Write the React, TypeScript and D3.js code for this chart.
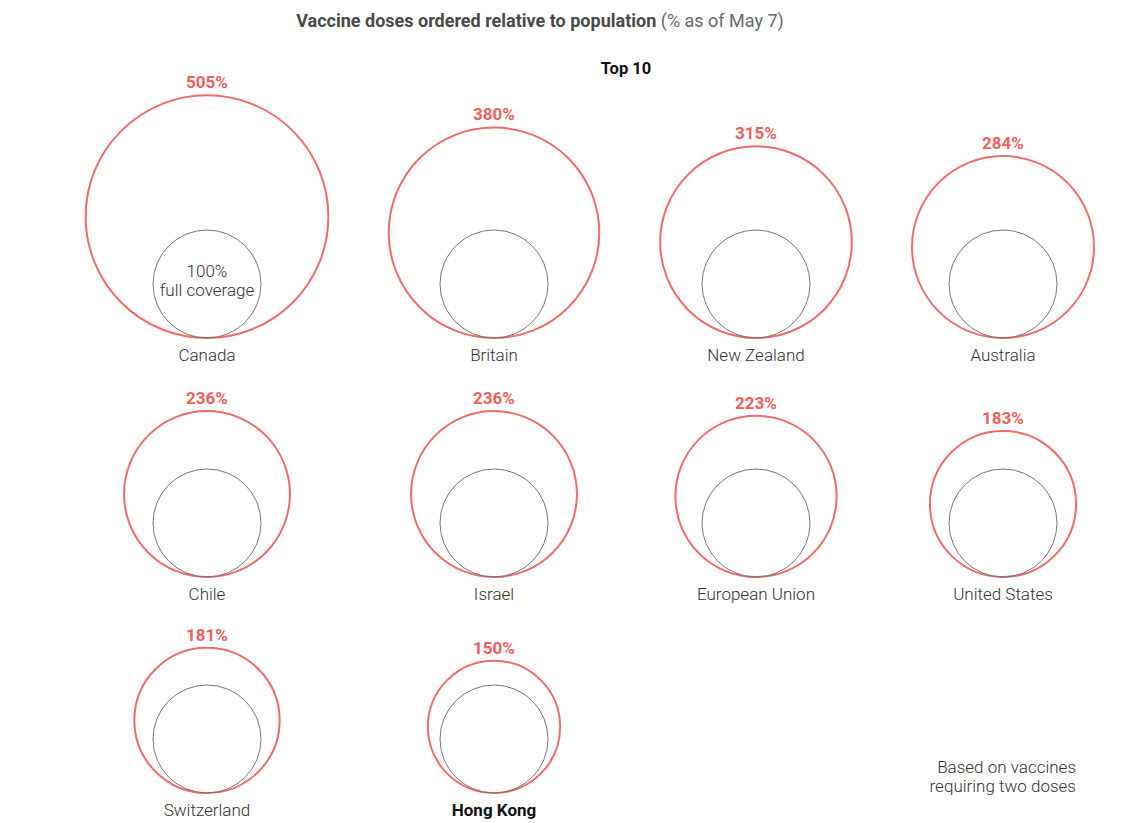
import React from "react";
import * as d3 from "d3";

const countries = [
  "Canada", "Britain", "New Zealand", "Australia",
  "Chile", "Israel", "European Union", "United States",
  "Switzerland", "Hong Kong",
];
const dosesPct = [505, 380, 315, 284, 236, 236, 223, 183, 181, 150];
const highlight = "Hong Kong";

const colCenters = [207, 494, 756, 1003];
const rowBottoms = [338, 577, 793];

const W = 1131;
const H = 823;
const RED = "#f26b6b";
const RED_TEXT = "#ef5f5c";
const FONT = "Roboto, 'Open Sans', sans-serif";

export default function App() {
  const r = d3.scaleSqrt().domain([0, 100]).range([0, 54]);
  return (
    <svg
      width={W}
      height={H}
      style={{ position: "absolute", left: 0, top: 0, background: "#fff" }}
      fontFamily={FONT}
    >
      <text x={540} y={27} textAnchor="middle" fontSize={18}>
        <tspan fontWeight={700} fill="#4a4a4a">
          Vaccine doses ordered relative to population
        </tspan>
        <tspan fontWeight={400} fill="#6a6a6a"> (% as of May 7)</tspan>
      </text>
      <text x={626} y={74} textAnchor="middle" fontSize={16.5} fontWeight={700} fill="#111">
        Top 10
      </text>
      {countries.map((c, i) => {
        const cx = colCenters[i % 4];
        const bottom = rowBottoms[Math.floor(i / 4)];
        const R = r(dosesPct[i]);
        const r0 = r(100);
        return (
          <g key={c}>
            <circle cx={cx} cy={bottom - R} r={R} fill="none" stroke={RED} strokeWidth={2} />
            <circle cx={cx} cy={bottom - r0} r={r0} fill="none" stroke="#777" strokeWidth={1} />
            <text
              x={cx}
              y={bottom - 2 * R - 7}
              textAnchor="middle"
              fontSize={17}
              fontWeight={700}
              fill={RED_TEXT}
            >
              {dosesPct[i]}%
            </text>
            <text
              x={cx}
              y={bottom + 23}
              textAnchor="middle"
              fontSize={17}
              fontWeight={c === highlight ? 700 : 300}
              fill={c === highlight ? "#111" : "#333"}
            >
              {c}
            </text>
            {i === 0 && (
              <text x={cx} textAnchor="middle" fontSize={17} fontWeight={300} fill="#333">
                <tspan x={cx} y={277}>100%</tspan>
                <tspan x={cx} y={296}>full coverage</tspan>
              </text>
            )}
          </g>
        );
      })}
      <text textAnchor="end" fontSize={17} fontWeight={300} fill="#333">
        <tspan x={1076} y={773}>Based on vaccines</tspan>
        <tspan x={1076} y={792}>requiring two doses</tspan>
      </text>
    </svg>
  );
}
